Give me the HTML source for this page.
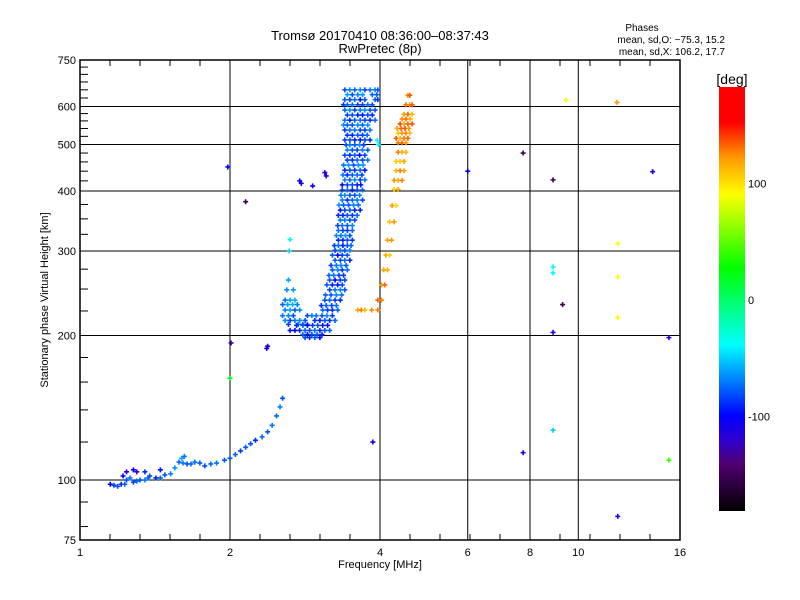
<!DOCTYPE html>
<html><head><meta charset="utf-8"><style>
body{margin:0;background:#fff;}
svg{display:block;font-family:"Liberation Sans",sans-serif;}
</style></head><body>
<svg id="chart" width="800" height="600" viewBox="0 0 800 600">
<text x="380" y="40" text-anchor="middle" font-size="13">Tromsø 20170410 08:36:00–08:37:43</text>
<text x="380" y="53" text-anchor="middle" font-size="13">RwPretec (8p)</text>
<text x="642" y="31" text-anchor="middle" font-size="10">Phases</text>
<text x="725" y="43" text-anchor="end" font-size="10">mean, sd,O: −75.3, 15.2</text>
<text x="725" y="55" text-anchor="end" font-size="10">mean, sd,X: 106.2, 17.7</text>
<g id="grid"></g>
<g id="points"></g>
<rect x="80" y="60" width="600" height="480" fill="none" stroke="#000" stroke-width="1.5"/>
<g id="ticks"></g>
<text x="380" y="568" text-anchor="middle" font-size="11">Frequency [MHz]</text>
<text transform="translate(48,300) rotate(-90)" text-anchor="middle" font-size="11">Stationary phase Virtual Height [km]</text>
<defs><linearGradient id="cbg" x1="0" y1="1" x2="0" y2="0"></linearGradient></defs>
<rect x="719" y="87" width="26" height="424" fill="url(#cbg)"/>
<text x="732" y="84" text-anchor="middle" font-size="14">[deg]</text>
<g id="cbticks"></g>
</svg>
<script>
const NS="http://www.w3.org/2000/svg";
const xTickVals=[1,2,4,6,8,10,16];
const yTickVals=[75,100,200,300,400,500,600,750];
const yMinorVals=[80,90,120,140,160,180,225,250,275,325,350,375,420,440,460,480,520,540,560,580,625,650,675,700,725];
const cbTickVals=[100,0,-100];
const cbStops=[[-180,"#000000"],[-140,"#500070"],[-120,"#3000d0"],[-99,"#0000ff"],[-39,"#00ffff"],[26,"#00ff00"],[89,"#ffff00"],[120,"#ff9900"],[150,"#ff0000"],[180,"#ff0000"]];
const jitterPhase=[-9,3,-4,7,-12,1,5,-7];
// O-trace rows
const oHeights=[650,620,590,562,536,511,487,464,442,422,402,383,365,348,331,316,301,287,274,261,249,237,226,215,205,198,226,215,237,249,261,205,211];
const oFreqs=[[3.40,3.48,3.56,3.65,3.73,3.82,3.91,3.96],[3.40,3.48,3.56,3.65,3.73,3.91,3.96],[3.40,3.48,3.56,3.65,3.73,3.82,3.91],[3.40,3.48,3.56,3.65,3.73,3.82,3.91],[3.40,3.48,3.56,3.65,3.73,3.82],[3.40,3.48,3.56,3.65,3.73,3.82],[3.44,3.52,3.60,3.69,3.78],[3.44,3.52,3.60,3.69,3.78],[3.40,3.48,3.56,3.65,3.73],[3.40,3.48,3.56,3.65,3.73],[3.36,3.44,3.52,3.60,3.69],[3.36,3.44,3.52,3.60,3.69],[3.33,3.40,3.48,3.56,3.65],[3.33,3.40,3.48,3.56],[3.30,3.37,3.44,3.52],[3.30,3.37,3.44,3.52],[3.25,3.33,3.40,3.48],[3.25,3.33,3.40,3.48],[3.21,3.29,3.36,3.44],[3.17,3.25,3.33,3.40],[3.17,3.25,3.33,3.40],[3.10,3.17,3.25,3.33],[3.07,3.14,3.21,3.29],[2.96,3.03,3.10,3.17,3.25],[2.76,2.83,2.89,2.96,3.03,3.10,3.17],[2.83,2.89,2.96,3.03],[2.58,2.64,2.70,2.76],[2.58,2.64,2.70,2.76,2.83],[2.58,2.64,2.70],[2.60,2.68],[2.62],[2.64,2.70],[2.62,2.74,2.80,2.86]];
const oPhases=[-72,-80,-70,-78,-74,-84,-72,-78,-82,-72,-80,-75,-84,-72,-78,-82,-74,-80,-75,-86,-72,-80,-78,-82,-80,-86,-66,-72,-62,-68,-66,-88,-76];
// O-trace intermediate rows
const o2Heights=[635,605,576,549,523,499,475,453,432,412,392,374,356,339,323,308,294,280,267,255,243,231,220,210,201,232,220];
const o2Freqs=[[3.44,3.52,3.61,3.69,3.86,3.94],[3.38,3.44,3.52,3.61,3.69,3.78,3.86],[3.44,3.52,3.61,3.69,3.78,3.86],[3.38,3.44,3.52,3.61,3.69,3.78],[3.44,3.52,3.61,3.69,3.77],[3.42,3.48,3.56,3.64,3.71],[3.40,3.48,3.56,3.64,3.73],[3.38,3.46,3.54,3.62,3.70],[3.37,3.44,3.52,3.60,3.68],[3.36,3.44,3.52,3.60,3.66],[3.34,3.40,3.48,3.56,3.64],[3.31,3.38,3.46,3.54,3.62],[3.30,3.37,3.44,3.52,3.60],[3.29,3.36,3.44,3.52],[3.27,3.34,3.41,3.48],[3.24,3.30,3.37,3.44,3.50],[3.21,3.29,3.36,3.44],[3.19,3.27,3.34,3.42],[3.16,3.23,3.31,3.38],[3.13,3.21,3.29,3.36],[3.11,3.19,3.27,3.35],[3.05,3.12,3.20,3.27],[2.98,3.06,3.13,3.21],[2.72,2.80,2.86,2.93,3.00,3.07,3.14],[2.80,2.86,2.92,2.99,3.06],[2.55,2.61,2.67,2.73],[2.55,2.62,2.68,2.86,2.92]];
const o2Phases=[-68,-76,-84,-70,-80,-72,-84,-68,-78,-86,-72,-70,-82,-74,-68,-80,-85,-72,-76,-84,-70,-80,-74,-86,-82,-62,-72];
// X-trace rows
const xHeights=[633,605,578,552,528,504,482,461,441,421,403,373,345,316,294,274,255,237,226,515,540,565];
const xFreqs=[[4.55,4.59],[4.51,4.59,4.64],[4.47,4.55,4.64],[4.39,4.47,4.55,4.64],[4.35,4.43,4.51,4.59],[4.35,4.43,4.51],[4.35,4.43,4.51],[4.31,4.39,4.47],[4.31,4.39,4.47],[4.27,4.35,4.43],[4.27,4.35],[4.23,4.31],[4.18,4.27],[4.14,4.22],[4.11,4.18],[4.07,4.14],[4.03,4.09],[3.96,4.03],[3.61,3.67,3.73,3.85,3.96],[4.31,4.39,4.47,4.55],[4.33,4.41,4.49,4.57],[4.43,4.51,4.60]];
const xPhases=[130,125,122,128,118,126,120,112,122,118,108,112,120,115,110,122,126,128,120,125,128,122];
// low E-layer trace
const lowFreqs=[1.15,1.17,1.19,1.21,1.23,1.24,1.26,1.28,1.30,1.32,1.35,1.37,1.38,1.42,1.45,1.48,1.52,1.55,1.58,1.61,1.64,1.67,1.70,1.74,1.78,1.83,1.88,1.95,2.0,2.05,2.1,2.15,2.2,2.25,2.32,2.38,2.43,2.48,2.52,2.55,1.24,1.28,1.30,1.35,1.22,1.45,1.60,1.62];
const lowHeights=[98,97.5,97,98,98,100,101,99,99.5,100,100,101,102,101,101,102.5,103,106,109,108.5,108,108,109,108.5,107,108,108.5,110,111,113,115,117,119,121,123,126,130,136,142,148,104,105,104,104,102,105,111,112];
const lowPhases=[-100,-85,-80,-90,-75,-80,-70,-85,-75,-80,-70,-75,-80,-90,-75,-80,-70,-65,-75,-70,-80,-75,-72,-78,-80,-75,-72,-78,-80,-75,-85,-78,-80,-90,-75,-80,-70,-75,-68,-80,-110,-100,-120,-90,-105,-95,-60,-70];
// scattered outliers
const sFreqs=[1.98,2.01,2.0,2.15,2.76,2.78,2.93,3.1,3.12,2.38,2.37,2.64,2.63,3.87,6.0,7.75,7.75,8.9,8.9,8.9,8.9,8.9,9.45,9.3,11.96,12,12,12,12,14.1,15.2,15.2,3.95,3.97];
const sHeights=[449,193,163,380,420,415,410,437,430,190,188,317,300,120,440,114,480,422,278,270,203,127,619,232,612,311,265,218,84,439,198,110,510,500];
const sPhases=[-100,-130,20,-150,-100,-110,-105,-110,-115,-110,-105,-40,-50,-110,-100,-110,-150,-150,-40,-40,-110,-50,90,-150,120,90,90,90,-110,-110,-110,40,-40,-40];

const X0=80,X1=680,Y0=540,Y1=60;
const xs=f=>X0+(X1-X0)*Math.log2(f)/4;
const ys=h=>Y0-(Y0-Y1)*Math.log10(h/75);
const cbY=p=>300-p*1.165;
function hex(c){return [1,3,5].map(i=>parseInt(c.substr(i,2),16));}
function color(p){
  p=Math.max(-180,Math.min(180,p));
  for(let i=0;i<cbStops.length-1;i++){
    const [a,ca]=cbStops[i],[b,cb]=cbStops[i+1];
    if(p>=a&&p<=b){const t=(p-a)/(b-a),A=hex(ca),B=hex(cb);
      return "rgb("+A.map((v,k)=>Math.round(v+(B[k]-v)*t)).join(",")+")";}
  }
  return "#000";
}
function mk(tag,attrs,parent){const e=document.createElementNS(NS,tag);for(const k in attrs)e.setAttribute(k,attrs[k]);parent.appendChild(e);return e;}
const grid=document.getElementById("grid"),ticks=document.getElementById("ticks"),pts=document.getElementById("points");
const g=document.getElementById("cbg");
cbStops.forEach(s=>{mk("stop",{offset:((s[0]+180)/360*100)+"%","stop-color":s[1]},g);});
xTickVals.forEach(v=>{
  const x=xs(v);
  if(v>1&&v<16){const l=mk("line",{x1:x,x2:x,y1:Y1,y2:Y0,stroke:"#000","stroke-width":1},grid);
    
    }
  const t=mk("text",{x:x,y:556,"text-anchor":"middle","font-size":11},ticks);t.textContent=v;
  
  
});
yTickVals.forEach(v=>{
  const y=ys(v);
  if(v>75&&v<750){const l=mk("line",{x1:X0,x2:X1,y1:y,y2:y,stroke:"#000","stroke-width":1},grid);
    
    }
  const t=mk("text",{x:76,y:y+4,"text-anchor":"end","font-size":11},ticks);t.textContent=v;
  
  
});
yMinorVals.forEach(v=>{const y=ys(v);
  const l=mk("line",{x1:X0,x2:X0+8,y1:y,y2:y,stroke:"#000"},ticks);
  
  });
for(let x=X0+30;x<X1;x+=30){
  const a=mk("line",{x1:x,x2:x,y1:Y0,y2:Y0-6,stroke:"#000"},ticks);
  
  
  const b=mk("line",{x1:x,x2:x,y1:Y1,y2:Y1+6,stroke:"#000"},ticks);
  
  
}
cbTickVals.forEach(v=>{const t=mk("text",{x:748,y:cbY(v)+4,"font-size":11},document.getElementById("cbticks"));t.textContent=v;
  
  });
function plus(f,h,p,name){
  const x=xs(f),y=ys(h);
  const e=mk("path",{d:`M${x-2.5},${y}h5M${x},${y-2.5}v5`,stroke:color(p),"stroke-width":1.6,fill:"none"},pts);
  
  
}
oHeights.forEach((h,i)=>oFreqs[i].forEach((f,j)=>plus(f,h,oPhases[i]+jitterPhase[(i+j)%8],'o-trace-point')));
o2Heights.forEach((h,i)=>o2Freqs[i].forEach((f,j)=>plus(f,h,o2Phases[i]+jitterPhase[(i+j+3)%8],'o-trace-point')));
xHeights.forEach((h,i)=>xFreqs[i].forEach((f,j)=>plus(f,h,xPhases[i]+jitterPhase[(i+j)%8],'x-trace-point')));
lowFreqs.forEach((f,i)=>plus(f,lowHeights[i],lowPhases[i],'e-layer-point'));
sFreqs.forEach((f,i)=>plus(f,sHeights[i],sPhases[i],'outlier-point'));
</script>
</body></html>
